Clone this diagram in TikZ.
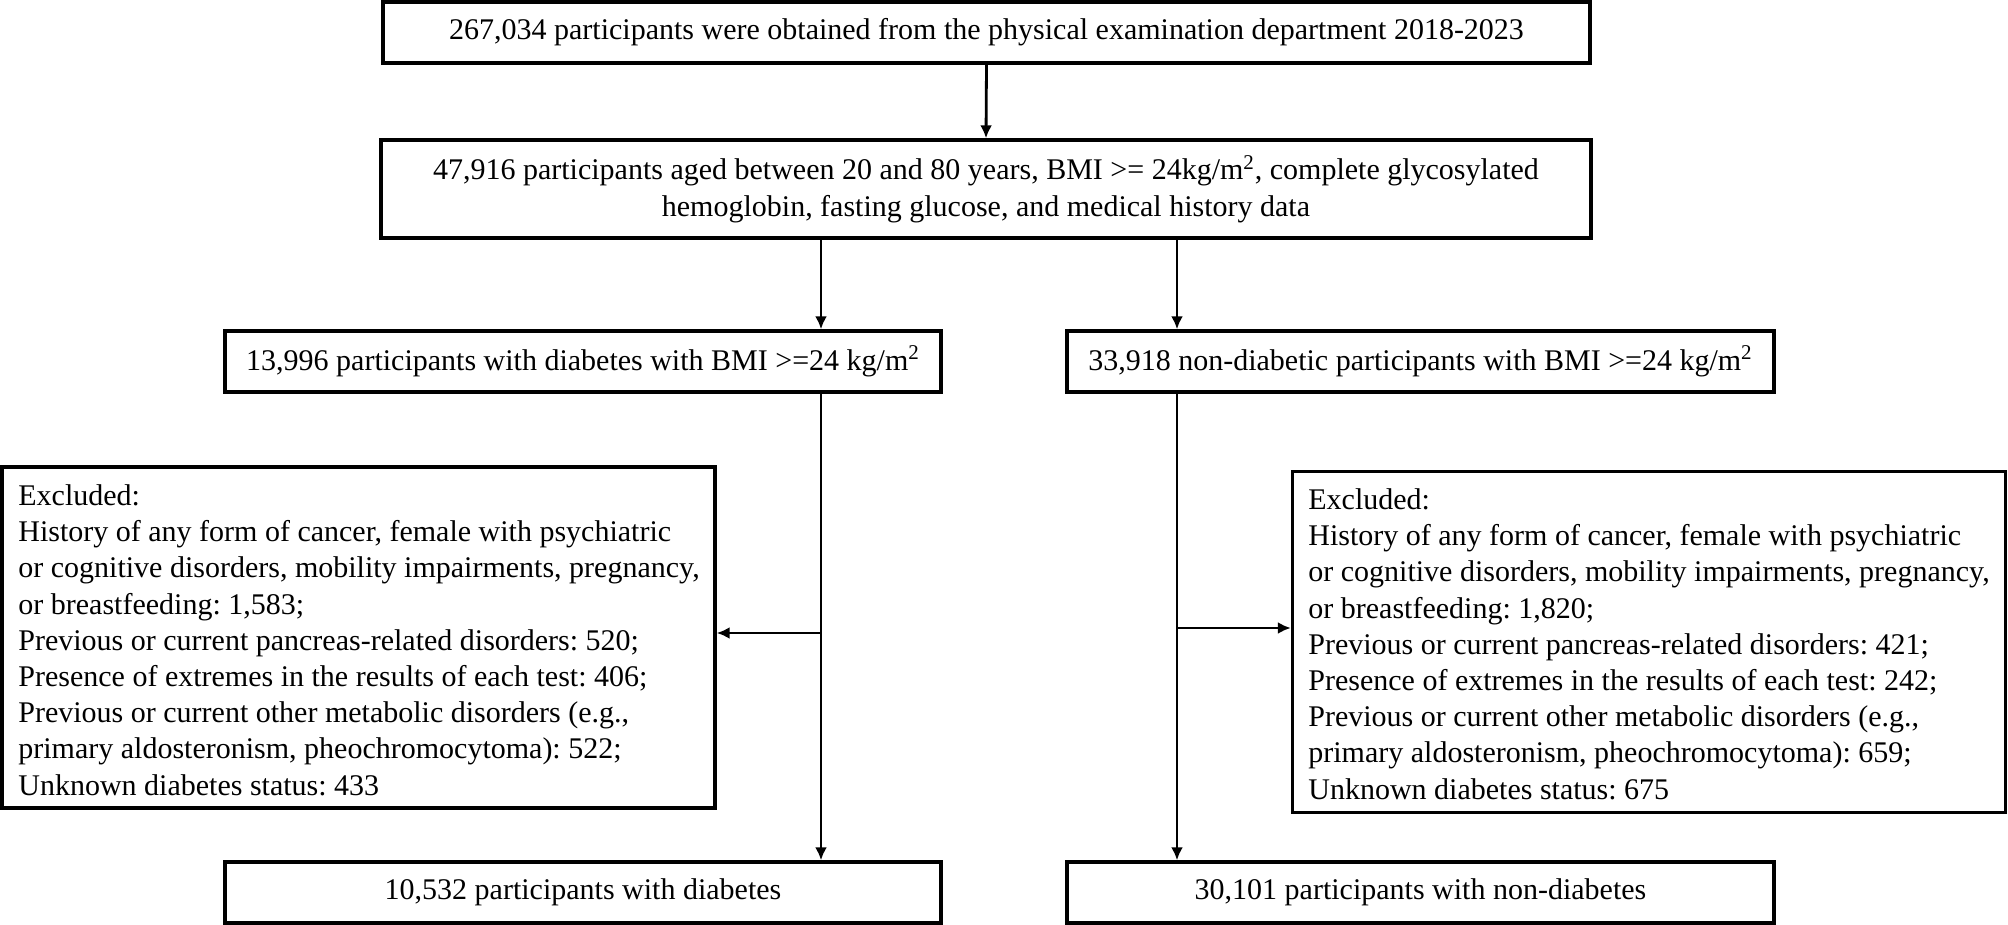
\documentclass[tikz,border=0pt]{standalone}
\usepackage{fontspec}
\setmainfont{Liberation Serif}
\usetikzlibrary{arrows.meta}
\begin{document}
\begin{tikzpicture}[x=0.5pt,y=-0.5pt,
  txt/.style={font=\fontsize{15}{18.1}\selectfont\frenchspacing},
  box/.style={draw, line width=1.7pt, inner sep=0pt, txt, align=center},
  exbox/.style={draw, line width=1.7pt, inner sep=0pt, minimum width=356.5pt, minimum height=170.5pt},
  extext/.style={txt, align=left, inner sep=0pt, anchor=west},
  arr/.style={line width=1.4pt, -{Latex[length=6.5pt,width=6pt]}}]
\useasboundingbox[fill=white] (0,0) rectangle (2008,925);

\node[box, minimum width=603.5pt, minimum height=30.5pt] (b1) at (986.5,32.5)
  {267,034 participants were obtained from the physical examination department 2018-2023};
\node[box, minimum width=605pt, minimum height=49pt] (b2) at (986,189)
  {47,916 participants aged between 20 and 80 years, BMI >= 24kg/m\textsuperscript{2}, complete glycosylated\\hemoglobin, fasting glucose, and medical history data};
\node[box, minimum width=358pt, minimum height=30.5pt] (b3) at (583,361.5)
  {13,996 participants with diabetes with BMI >=24 kg/m\textsuperscript{2}};
\node[box, minimum width=353.5pt, minimum height=30.5pt] (b4) at (1420.5,361.5)
  {33,918 non-diabetic participants with BMI >=24 kg/m\textsuperscript{2}};
\node[exbox] (exL) at (358.5,637.5) {};
\node[exbox] (exR) at (1649,642) {};
\node[extext] (tL) at (18,640)
  {Excluded:\\
   History of any form of cancer, female with psychiatric\\
   or cognitive disorders, mobility impairments, pregnancy,\\
   or breastfeeding: 1,583;\\
   Previous or current pancreas-related disorders: 520;\\
   Presence of extremes in the results of each test: 406;\\
   Previous or current other metabolic disorders (e.g.,\\
   primary aldosteronism, pheochromocytoma): 522;\\
   Unknown diabetes status: 433};
\node[extext] (tR) at (1308,644)
  {Excluded:\\
   History of any form of cancer, female with psychiatric\\
   or cognitive disorders, mobility impairments, pregnancy,\\
   or breastfeeding: 1,820;\\
   Previous or current pancreas-related disorders: 421;\\
   Presence of extremes in the results of each test: 242;\\
   Previous or current other metabolic disorders (e.g.,\\
   primary aldosteronism, pheochromocytoma): 659;\\
   Unknown diabetes status: 675};
\node[box, minimum width=358pt, minimum height=30.5pt] (b5) at (583,892.5)
  {10,532 participants with diabetes};
\node[box, minimum width=353.5pt, minimum height=30.5pt] (b6) at (1420.5,892.5)
  {30,101 participants with non-diabetes};

\coordinate (xl) at (821,0);
\coordinate (xr) at (1177,0);
\coordinate (hl) at (0,633);
\coordinate (hr) at (0,628);

\draw[arr] (b1.south) -- (b2.north);
\draw[arr] (b2.south -| xl) -- (b3.north -| xl);
\draw[arr] (b2.south -| xr) -- (b4.north -| xr);
\draw[arr] (b3.south -| xl) -- (b5.north -| xl);
\draw[arr] (b4.south -| xr) -- (b6.north -| xr);
\draw[arr] (xl |- hl) -- (exL.east |- hl);
\draw[arr] (xr |- hr) -- (exR.west |- hr);
\end{tikzpicture}
\end{document}
